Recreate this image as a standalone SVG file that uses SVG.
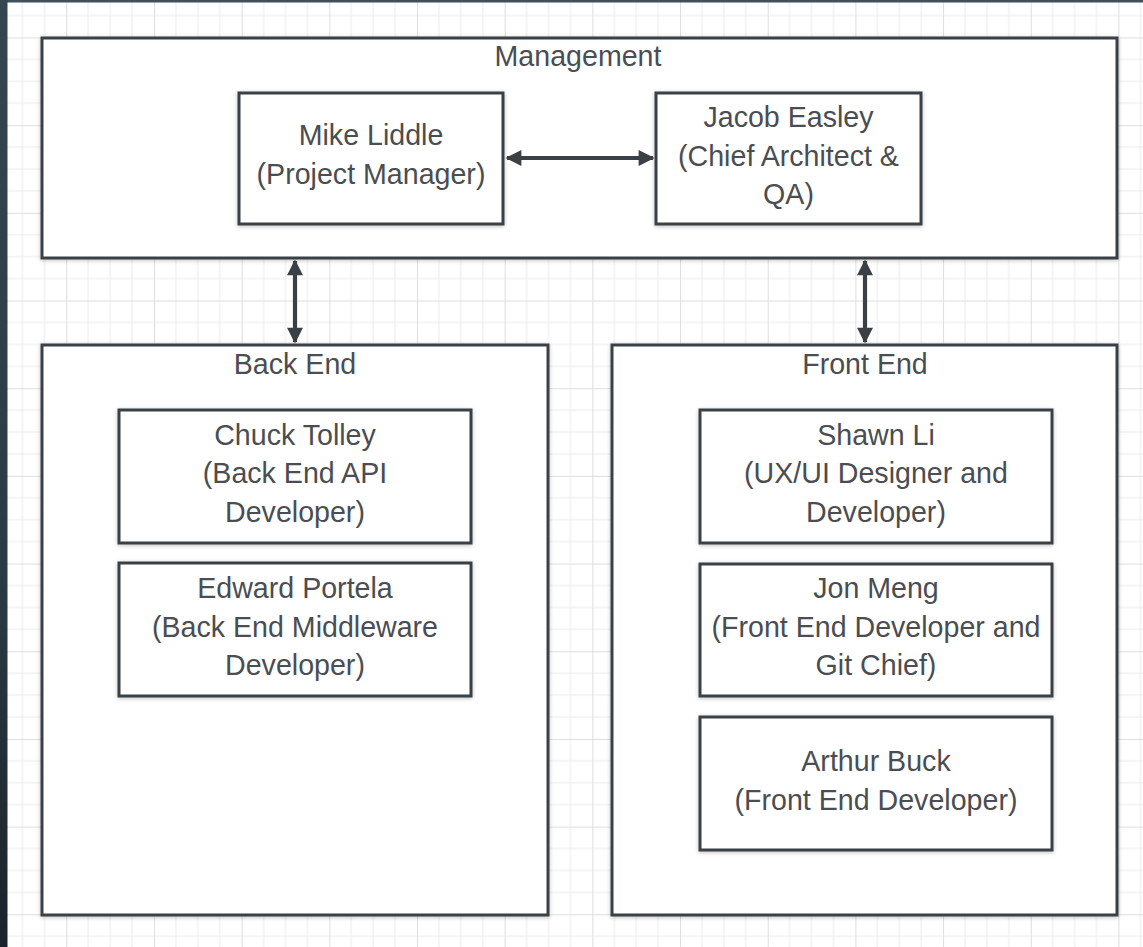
<svg xmlns="http://www.w3.org/2000/svg" width="1143" height="947" viewBox="0 0 1143 947">
  <defs>
    <pattern id="grid" x="-21.4" y="-50.2" width="87.68" height="87.68" patternUnits="userSpaceOnUse">
      <path d="M21.92 0V87.68M43.84 0V87.68M65.76 0V87.68M0 21.92H87.68M0 43.84H87.68M0 65.76H87.68" stroke="#ebebeb" stroke-width="1" fill="none"/>
      <path d="M0.5 0V87.68M0 0.5H87.68" stroke="#dedede" stroke-width="1" fill="none"/>
    </pattern>
    <linearGradient id="edge" x1="0" y1="0" x2="0" y2="1">
      <stop offset="0" stop-color="#34464f"/>
      <stop offset="0.6" stop-color="#2b3b45"/>
      <stop offset="1" stop-color="#1b232a"/>
    </linearGradient>
    <filter id="soft" x="-5%" y="-5%" width="110%" height="110%">
      <feGaussianBlur in="SourceAlpha" stdDeviation="2"/>
      <feOffset dx="0" dy="1"/>
      <feComponentTransfer><feFuncA type="linear" slope="0.25"/></feComponentTransfer>
      <feMerge><feMergeNode/><feMergeNode in="SourceGraphic"/></feMerge>
    </filter>
    <marker id="head" viewBox="0 0 10 10" refX="9" refY="5" markerWidth="5.4" markerHeight="3.8" orient="auto-start-reverse" markerUnits="strokeWidth">
      <path d="M0 0L10 5L0 10Z" fill="#3b4046"/>
    </marker>
    <style>
      .box { fill: #ffffff; stroke: #3b4046; stroke-width: 3; }
      .label { font-family: "Liberation Sans", Arial, sans-serif; font-size: 28.6px; fill: #4a4d51; text-anchor: middle; }
      .link { stroke: #3b4046; stroke-width: 4.2; fill: none; }
    </style>
  </defs>

  <!-- canvas and grid -->
  <rect x="0" y="0" width="1143" height="947" fill="#ffffff"/>
  <rect x="0" y="0" width="1143" height="947" fill="url(#grid)"/>
  <rect x="0" y="0" width="1143" height="2.5" fill="#3f505a"/>
  <rect x="0" y="0" width="7.5" height="947" fill="url(#edge)"/>

  <!-- group containers -->
  <g id="management">
    <rect class="box" x="42" y="38" width="1075" height="220" filter="url(#soft)"/>
    <text class="label" x="578" y="66">Management</text>
  </g>
  <g id="back-end">
    <rect class="box" x="42" y="345" width="506" height="570" filter="url(#soft)"/>
    <text class="label" x="295" y="374">Back End</text>
  </g>
  <g id="front-end">
    <rect class="box" x="612" y="345" width="505" height="570" filter="url(#soft)"/>
    <text class="label" x="865" y="374">Front End</text>
  </g>

  <!-- people -->
  <g id="mike-liddle">
    <rect class="box" x="239" y="93" width="264" height="131" filter="url(#soft)"/>
    <text class="label" x="371" y="145">Mike Liddle</text>
    <text class="label" x="371" y="184">(Project Manager)</text>
  </g>
  <g id="jacob-easley">
    <rect class="box" x="656" y="93" width="265" height="131" filter="url(#soft)"/>
    <text class="label" x="788.5" y="127">Jacob Easley</text>
    <text class="label" x="788.5" y="166">(Chief Architect &amp;</text>
    <text class="label" x="788.5" y="204">QA)</text>
  </g>
  <g id="chuck-tolley">
    <rect class="box" x="119" y="410" width="352" height="133" filter="url(#soft)"/>
    <text class="label" x="295" y="445">Chuck Tolley</text>
    <text class="label" x="295" y="483">(Back End API</text>
    <text class="label" x="295" y="522">Developer)</text>
  </g>
  <g id="edward-portela">
    <rect class="box" x="119" y="563" width="352" height="133" filter="url(#soft)"/>
    <text class="label" x="295" y="598">Edward Portela</text>
    <text class="label" x="295" y="637">(Back End Middleware</text>
    <text class="label" x="295" y="675">Developer)</text>
  </g>
  <g id="shawn-li">
    <rect class="box" x="700" y="410" width="352" height="133" filter="url(#soft)"/>
    <text class="label" x="876" y="445">Shawn Li</text>
    <text class="label" x="876" y="483">(UX/UI Designer and</text>
    <text class="label" x="876" y="522">Developer)</text>
  </g>
  <g id="jon-meng">
    <rect class="box" x="700" y="564" width="352" height="132" filter="url(#soft)"/>
    <text class="label" x="876" y="598">Jon Meng</text>
    <text class="label" x="876" y="637">(Front End Developer and</text>
    <text class="label" x="876" y="675">Git Chief)</text>
  </g>
  <g id="arthur-buck">
    <rect class="box" x="700" y="717" width="352" height="133" filter="url(#soft)"/>
    <text class="label" x="876" y="771">Arthur Buck</text>
    <text class="label" x="876" y="810">(Front End Developer)</text>
  </g>

  <!-- connectors -->
  <g id="connectors">
    <line class="link" x1="507" y1="158" x2="653" y2="158" marker-start="url(#head)" marker-end="url(#head)"/>
    <line class="link" x1="295" y1="261" x2="295" y2="342" marker-start="url(#head)" marker-end="url(#head)"/>
    <line class="link" x1="865" y1="261" x2="865" y2="342" marker-start="url(#head)" marker-end="url(#head)"/>
  </g>
</svg>
